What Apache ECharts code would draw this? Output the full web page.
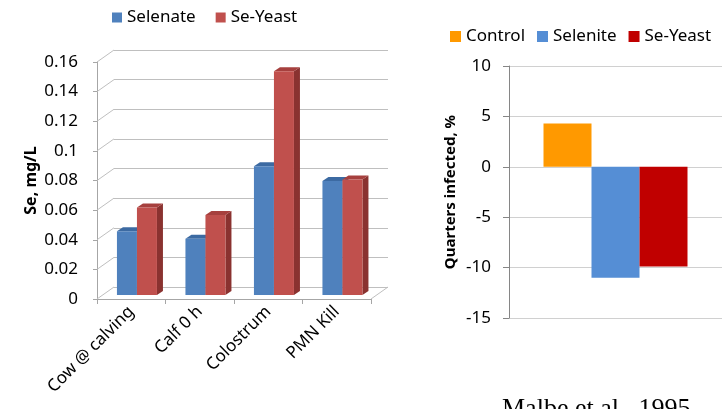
<!DOCTYPE html>
<html>
<head>
<meta charset="utf-8">
<script src="https://cdn.jsdelivr.net/npm/echarts@6/dist/echarts.min.js"></script>
<style>
  html, body { margin: 0; padding: 0; background: #fff; }
  #chart { width: 723px; height: 409px; }
</style>
</head>
<body>
<div id="chart"></div>
<script>
// left chart: Se concentration
const stages = ["Cow @ calving", "Calf 0 h", "Colostrum", "PMN Kill"];
const selenate = [0.043, 0.038, 0.087, 0.077];
const seYeastLeft = [0.059, 0.054, 0.151, 0.078];
const leftTicks = [0, 0.02, 0.04, 0.06, 0.08, 0.1, 0.12, 0.14, 0.16];

// right chart: quarters infected
const control = [4.3];
const selenite = [-11.0];
const seYeastRight = [-9.9];

const FONT = "Noto Sans";
const DX = 17, DY = -12;        // wall depth
const BDX = 6, BDY = -4;        // bar depth
const OFX = 5.7, OFY = -4;      // bar front plane offset

const chart = echarts.init(document.getElementById("chart"));

function bar3d(side, front, top, right) {
  return function (params, api) {
    const i = api.value(0);
    const base = api.coord([i, 0]);
    const tip = api.coord([i, api.value(1)]);
    const bw = api.size([1, 0])[0] * 0.292;
    const cx = base[0] + OFX;
    const x1 = side === 0 ? cx - bw : cx;
    const x2 = x1 + bw;
    const yb = base[1] + OFY;
    const yt = tip[1] + OFY;
    return {
      type: "group",
      children: [
        { type: "polygon", shape: { points: [[x2, yt], [x2 + BDX, yt + BDY], [x2 + BDX, yb + BDY], [x2, yb]] }, style: { fill: right } },
        { type: "polygon", shape: { points: [[x1, yt], [x2, yt], [x2 + BDX, yt + BDY], [x1 + BDX, yt + BDY]] }, style: { fill: top } },
        { type: "rect", shape: { x: x1, y: yt, width: bw, height: yb - yt }, style: { fill: front } }
      ]
    };
  };
}

chart.setOption({
  animation: false,
  backgroundColor: "#fff",
  textStyle: { fontFamily: FONT },
  legend: [
    {
      data: ["Selenate", "Se-Yeast"],
      left: 107, top: 4,
      icon: "rect", itemWidth: 10, itemHeight: 10, itemGap: 20,
      textStyle: { fontFamily: FONT, fontSize: 17, color: "#000" }
    },
    {
      data: ["Control", "Selenite", "Se-Yeast (R)"],
      left: 445, top: 23,
      icon: "rect", itemWidth: 11, itemHeight: 11, itemGap: 12,
      formatter: n => n.replace(" (R)", ""),
      textStyle: { fontFamily: FONT, fontSize: 17, color: "#000" }
    }
  ],
  grid: [
    { left: 97, top: 62, width: 274, height: 237 },
    { left: 114, top: 50, width: 274, height: 237 },
    { left: 509, top: 66, width: 213, height: 252 }
  ],
  xAxis: [
    {
      gridIndex: 0, type: "category", data: stages,
      axisLine: { lineStyle: { color: "#A6A6A6" } },
      axisTick: { show: true, length: 5, lineStyle: { color: "#A6A6A6" } },
      axisLabel: { rotate: 45, fontSize: 17, color: "#000", margin: 10, interval: 0 }
    },
    { gridIndex: 1, type: "category", data: stages, show: false },
    {
      gridIndex: 2, type: "category", data: [""],
      axisLine: { show: false }, axisTick: { show: false }, axisLabel: { show: false }
    }
  ],
  yAxis: [
    {
      gridIndex: 0, type: "value", min: 0, max: 0.16, interval: 0.02,
      name: "Se, mg/L", nameLocation: "middle", nameGap: 58,
      nameTextStyle: { fontFamily: FONT, fontSize: 16, fontWeight: "bold", color: "#000" },
      axisLine: { show: true, lineStyle: { color: "#A6A6A6" } },
      axisTick: { show: true, length: 4, lineStyle: { color: "#A6A6A6" } },
      axisLabel: { fontSize: 17, color: "#000", margin: 19 },
      splitLine: { show: false }
    },
    {
      gridIndex: 1, type: "value", min: 0, max: 0.16, interval: 0.02,
      axisLine: { show: false }, axisTick: { show: false }, axisLabel: { show: false },
      splitLine: { show: true, lineStyle: { color: "#BFBFBF" } }
    },
    {
      gridIndex: 2, type: "value", min: -15, max: 10, interval: 5,
      name: "Quarters infected, %", nameLocation: "middle", nameGap: 51,
      nameTextStyle: { fontFamily: FONT, fontSize: 15, fontWeight: "bold", color: "#000" },
      axisLine: { show: true, lineStyle: { color: "#868686" } },
      axisTick: { show: true, length: 6, lineStyle: { color: "#868686" } },
      axisLabel: { fontSize: 17, color: "#000", margin: 18 },
      splitLine: { show: true, lineStyle: { color: "#D0D0D0" } }
    }
  ],
  series: [
    {
      type: "custom", name: "wall", xAxisIndex: 0, yAxisIndex: 0, silent: true,
      data: leftTicks.map(v => [0, v]),
      renderItem: (params, api) => {
        const p = api.coord([0, api.value(1)]);
        const x0 = params.coordSys.x;
        return { type: "line", shape: { x1: x0, y1: p[1], x2: x0 + DX, y2: p[1] + DY }, style: { stroke: "#BFBFBF", lineWidth: 1 } };
      }
    },
    {
      type: "custom", name: "floor", xAxisIndex: 0, yAxisIndex: 0, silent: true,
      data: [[stages.length - 1, 0]],
      renderItem: (params, api) => {
        const p = api.coord([0, 0]);
        const x0 = params.coordSys.x + params.coordSys.width;
        return { type: "line", shape: { x1: x0, y1: p[1], x2: x0 + DX, y2: p[1] + DY }, style: { stroke: "#BFBFBF", lineWidth: 1 } };
      }
    },
    {
      type: "custom", name: "Selenate", xAxisIndex: 0, yAxisIndex: 0,
      itemStyle: { color: "#4F81BD" },
      data: selenate.map((v, i) => [i, v]),
      renderItem: bar3d(0, "#4F81BD", "#3C6AA2", "#345C8C")
    },
    {
      type: "custom", name: "Se-Yeast", xAxisIndex: 0, yAxisIndex: 0,
      itemStyle: { color: "#C0504D" },
      data: seYeastLeft.map((v, i) => [i, v]),
      renderItem: bar3d(1, "#C0504D", "#A6403E", "#8A3230")
    },
    {
      type: "bar", name: "Control", xAxisIndex: 2, yAxisIndex: 2,
      data: control, barWidth: 48, barGap: "0%", itemStyle: { color: "#FF9900" }
    },
    {
      type: "bar", name: "Selenite", xAxisIndex: 2, yAxisIndex: 2,
      data: selenite, barWidth: 48, barGap: "0%", itemStyle: { color: "#558ED5" }
    },
    {
      type: "bar", name: "Se-Yeast (R)", xAxisIndex: 2, yAxisIndex: 2,
      data: seYeastRight, barWidth: 48, barGap: "0%", itemStyle: { color: "#C00000" }
    }
  ],
  graphic: [
    {
      type: "text", left: 502, top: 396,
      style: { text: "Malbe et al., 1995", fontFamily: "Liberation Serif", fontSize: 26, fill: "#000" }
    }
  ]
});
</script>
</body>
</html>
